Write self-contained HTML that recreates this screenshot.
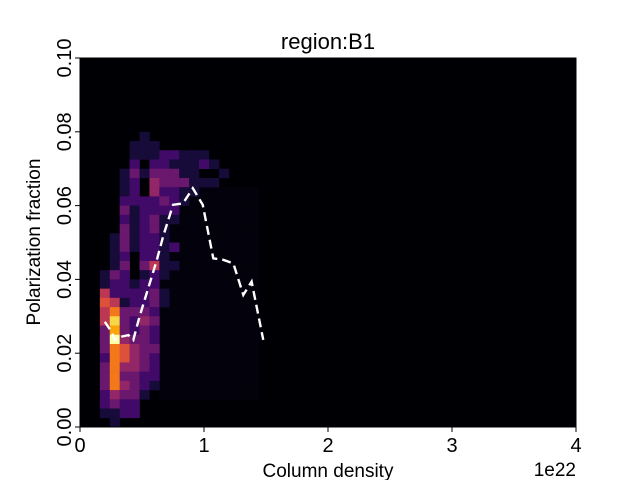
<!DOCTYPE html>
<html><head><meta charset="utf-8"><style>
body{margin:0;background:#fff}
svg{display:block;font-family:"Liberation Sans","DejaVu Sans",sans-serif}
</style></head><body>
<svg id="c" width="640" height="480" viewBox="0 0 640 480">
<text x="328" y="49" font-size="22" text-anchor="middle">region:B1</text>
<rect x="80" y="58" width="496" height="369" fill="#000004"/>
<g id="cells"></g>
<polyline id="med" fill="none" stroke="#fff" stroke-width="2.4" stroke-dasharray="9,5"/>
<g id="axes"></g>
<text x="328" y="477" font-size="19" text-anchor="middle">Column density</text>
<text x="576" y="476" font-size="19" text-anchor="end">1e22</text>
<text transform="translate(40,242) rotate(-90)" font-size="19" text-anchor="middle">Polarization fraction</text>
</svg>
<script>
const xTicks=[0,1,2,3,4];
const yTicks=[0,0.02,0.04,0.06,0.08,0.1];
const yTickLabels=["0.00","0.02","0.04","0.06","0.08","0.10"];
const rows={
8:[0,0,0,0,0,0,1],
9:[0,0,0,0,0,1,1,1],
10:[0,0,0,0,0,1,1,1,2,2,1,1,1],
11:[0,0,0,0,0,2,0,2,2,1,1,1,2,1],
12:[0,0,0,0,1,3,1,3,3,3,1,1,0,0,1],
13:[0,0,0,0,1,2,0,4,3,3,3,1,1,1],
14:[0,0,0,0,1,2,0,4,2,2,1,1],
15:[0,0,0,0,2,2,2,2,3,2,1],
16:[0,0,0,0,3,1,2,2,2,2],
17:[0,0,0,0,2,1,2,3,1,1],
18:[0,0,0,0,3,1,2,3,1],
19:[0,0,0,1,3,1,2,2,1],
20:[0,0,0,1,3,1,2,2,1,2],
21:[0,0,0,1,2,0,2,2,1],
22:[0,0,0,1,3,0,3,5,1,1],
23:[0,0,1,3,2,0,1,2,1],
24:[0,0,1,2,2,1,2,2],
25:[0,0,5,2,2,2,2,3,1],
26:[0,0,6,5,1,2,2,3,1],
27:[0,0,5,7,3,3,3,2],
28:[0,0,5,9,3,2,4,3],
29:[0,0,3,8,3,2,3,2],
30:[0,0,3,10,4,3,3,2],
31:[0,0,3,7,6,4,3,3],
32:[0,0,2,7,6,4,3,2],
33:[0,0,3,7,4,4,3,2],
34:[0,0,3,7,3,3,2,2],
35:[0,0,3,7,4,3,2,1],
36:[0,0,2,4,3,3,1],
37:[0,0,2,3,2,2],
38:[0,0,1,1,2,2],
39:[0,0,0,1]
};
const medX=[0.20,0.255,0.28,0.336,0.39,0.43,0.48,0.62,0.67,0.75,0.83,0.91,0.99,1.075,1.156,1.237,1.317,1.384,1.478];
const medY=[0.0285,0.0258,0.0236,0.0245,0.0249,0.0236,0.0299,0.0453,0.0516,0.0602,0.0606,0.0647,0.0602,0.0457,0.0453,0.0443,0.0358,0.0394,0.0236];

const X0=80,X1=576,Y0=427,Y1=58;
const sx=v=>X0+(v/4)*(X1-X0);
const sy=v=>Y0-(v/0.1)*(Y0-Y1);
const NS="http://www.w3.org/2000/svg";
const inf=[[0,0,4],[22,11,57],[66,10,104],[106,23,110],[147,38,103],[188,55,84],[221,81,58],[243,120,25],[252,165,10],[246,215,70],[252,255,164]];
function col(v){
  const t=Math.max(0,Math.min(10,v));const i=Math.min(9,Math.floor(t));const f=t-i;
  const a=inf[i],b=inf[i+1];
  return `rgb(${a.map((x,k)=>Math.round(x+(b[k]-x)*f)).join(',')})`;
}
const cw=(X1-X0)/50,ch=(Y0-Y1)/40;
const g=document.getElementById('cells');
for(let r=14;r<37;r++)for(let c=8;c<18;c++){
  if(rows[r]&&rows[r][c])continue;
  const e=document.createElementNS(NS,'rect');
  e.setAttribute('x',sx(c*0.08));e.setAttribute('y',sy(0.1-r*0.0025));
  e.setAttribute('width',cw+0.3);e.setAttribute('height',ch+0.3);
  e.setAttribute('fill',col(0.15));
  
  
  g.appendChild(e);
}
for(const r in rows){rows[r].forEach((v,c)=>{
  if(!v)return;
  const e=document.createElementNS(NS,'rect');
  e.setAttribute('x',sx(c*0.08));e.setAttribute('y',sy(0.1-r*0.0025));
  e.setAttribute('width',cw+0.3);e.setAttribute('height',ch+0.3);
  e.setAttribute('fill',col(v));
  
  
  g.appendChild(e);
});}
document.getElementById('med').setAttribute('points',medX.map((x,i)=>sx(x)+','+sy(medY[i])).join(' '));
const ax=document.getElementById('axes');
let h='<rect x="80" y="58" width="496" height="369" fill="none" stroke="#000" stroke-width="1"/>';
xTicks.forEach(t=>{h+=`<line x1="${sx(t)}" y1="427" x2="${sx(t)}" y2="432" stroke="#000"/><text x="${sx(t)}" y="452" font-size="20" text-anchor="middle">${t}</text>`;});
yTicks.forEach((t,i)=>{h+=`<line x1="75" y1="${sy(t)}" x2="80" y2="${sy(t)}" stroke="#000"/><text transform="translate(71,${sy(t)}) rotate(-90)" font-size="20" text-anchor="middle">${yTickLabels[i]}</text>`;});
ax.innerHTML=h;
</script>
</body></html>
